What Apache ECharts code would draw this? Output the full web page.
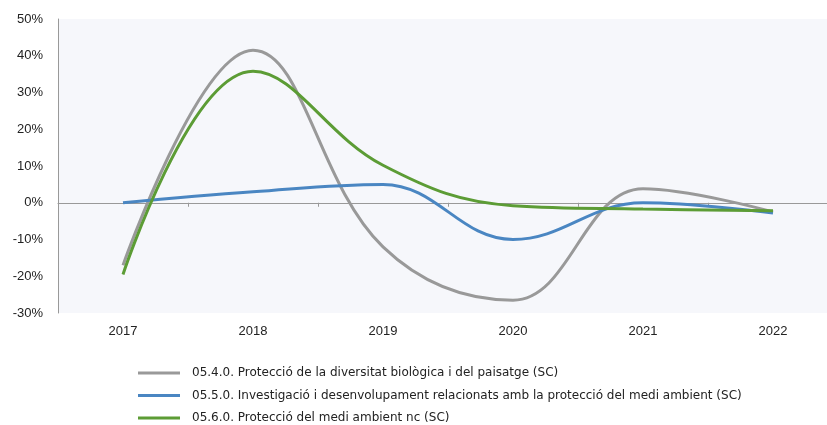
<!DOCTYPE html>
<html>
<head>
<meta charset="utf-8">
<script src="https://cdn.jsdelivr.net/npm/echarts@6/dist/echarts.min.js"></script>
<style>
  html, body { margin: 0; padding: 0; background: #fff; }
  #chart { width: 827px; height: 425px; }
</style>
</head>
<body>
<div id="chart"></div>
<script>
// anys
const years = ['2017', '2018', '2019', '2020', '2021', '2022'];

// series names
const nameBio = '05.4.0. Protecció de la diversitat biològica i del paisatge (SC)';
const nameRD = '05.5.0. Investigació i desenvolupament relacionats amb la protecció del medi ambient (SC)';
const nameNc = '05.6.0. Protecció del medi ambient nc (SC)';

// variació (%)
const bioValues = [-17, 41.5, -12, -26.5, 3.8, -2.5];
const rdValues = [0, 3, 5, -10, 0, -2.8];
const ncValues = [-19.5, 35.8, 10.2, -0.8, -1.7, -2.2];

const chart = echarts.init(document.getElementById('chart'));

function lineSeries(name, data, color) {
  return {
    name: name,
    type: 'line',
    data: data,
    smooth: 0.4,
    symbol: 'none',
    xAxisIndex: 0,
    lineStyle: { color: color, width: 3 },
    itemStyle: { color: color },
  };
}

let option = {
  animation: false,
  grid: {
    left: 58,
    width: 780,
    top: 19,
    height: 294,
    outerBoundsMode: 'none',
    containLabel: false,
    show: true,
    backgroundColor: '#f6f7fb',
    borderWidth: 0,
  },
  legend: {
    orient: 'vertical',
    left: 138,
    top: 367,
    height: 80,
    padding: 0,
    itemWidth: 42,
    itemHeight: 3,
    itemGap: 10.5,
    icon: 'rect',
    textStyle: {
      fontFamily: 'DejaVu Sans',
      fontSize: 12,
      color: '#222',
      padding: [0, 0, 0, 7],
    },
    data: [nameBio, nameRD, nameNc],
  },
  xAxis: [
    {
      type: 'category',
      data: years,
      boundaryGap: true,
      position: 'bottom',
      axisLine: { show: false, onZero: false },
      axisTick: { show: false },
      axisLabel: { fontFamily: 'Liberation Sans', fontSize: 13, color: '#222', margin: 12 },
    },
    {
      type: 'category',
      data: years,
      boundaryGap: true,
      position: 'bottom',
      axisLine: { show: true, onZero: true, lineStyle: { color: '#999', width: 1 } },
      axisTick: { show: true, length: 4, lineStyle: { color: '#999' } },
      axisLabel: { show: false },
    },
  ],
  yAxis: {
    type: 'value',
    min: -30,
    max: 50,
    interval: 10,
    axisLine: { show: true, lineStyle: { color: '#999', width: 1 } },
    axisTick: { show: false },
    splitLine: { show: false },
    axisLabel: {
      formatter: '{value}%',
      fontFamily: 'Liberation Sans',
      fontSize: 13,
      color: '#222',
      margin: 15,
    },
  },
  series: [
    lineSeries(nameBio, bioValues, '#999999'),
    lineSeries(nameRD, rdValues, '#4a86c2'),
    lineSeries(nameNc, ncValues, '#5c9c35'),
  ],
};

chart.setOption(option);
</script>
</body>
</html>
